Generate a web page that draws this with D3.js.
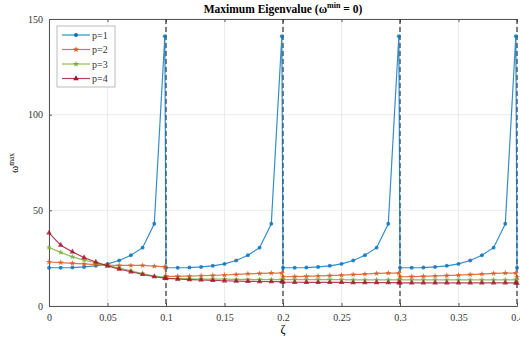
<!DOCTYPE html>
<html lang="en">
<head>
<meta charset="UTF-8">
<title>Maximum Eigenvalue</title>
<script src="https://d3js.org/d3.v7.min.js"></script>
<style>
  body { margin: 0; background: #fff; }
  svg, svg text { font-family: "Liberation Serif", "DejaVu Serif", serif; }
  .tick text { font-size: 10px; fill: #333; font-family: "Liberation Serif", serif; }
</style>
</head>
<body>
<svg width="520" height="340"></svg>
<script>
// zeta values (x)
const zeta = [
  0, 0.01, 0.02, 0.03, 0.04, 0.05, 0.06, 0.07, 0.08, 0.09, 0.099,
  0.1, 0.11, 0.12, 0.13, 0.14, 0.15, 0.16, 0.17, 0.18, 0.19, 0.199,
  0.2, 0.21, 0.22, 0.23, 0.24, 0.25, 0.26, 0.27, 0.28, 0.29, 0.299,
  0.3, 0.31, 0.32, 0.33, 0.34, 0.35, 0.36, 0.37, 0.38, 0.39, 0.399,
  0.4
];
const p1 = [
  20, 20, 20.1, 20.4, 21, 22, 23.8, 26.5, 30.5, 43, 141,
  20, 20, 20.1, 20.4, 21, 22, 23.8, 26.5, 30.5, 43, 141,
  20, 20, 20.1, 20.4, 21, 22, 23.8, 26.5, 30.5, 43, 141,
  20, 20, 20.1, 20.4, 21, 22, 23.8, 26.5, 30.5, 43, 141,
  20
];
const p2 = [
  23, 22.7, 22.3, 22, 21.6, 21.3, 21.2, 21.2, 21.2, 20.8, 20.5,
  15.5, 15.5, 15.6, 15.8, 16, 16.2, 16.5, 16.8, 17, 17.2, 17.2,
  15.3, 15.4, 15.5, 15.7, 15.9, 16.1, 16.4, 16.7, 17, 17.2, 17.2,
  15.3, 15.4, 15.5, 15.7, 15.9, 16.1, 16.4, 16.7, 17, 17.2, 17.2,
  15
];
const p3 = [
  30.6, 28, 25.7, 24, 22.6, 21, 20, 18.4, 17, 15.6, 15,
  14.5, 14.3, 14.2, 14.1, 14, 14, 13.9, 13.9, 13.8, 13.8, 13.8,
  13.8, 13.8, 13.8, 13.8, 13.8, 13.8, 13.7, 13.7, 13.7, 13.7, 13.7,
  13.7, 13.7, 13.7, 13.7, 13.7, 13.7, 13.7, 13.7, 13.7, 13.7, 13.7,
  13.7
];
const p4 = [
  38.2, 31.8, 28.3, 25.3, 23, 21, 19.3, 17.9, 16.5, 15.3, 14.6,
  14.4, 14.1, 13.8, 13.6, 13.4, 13.2, 13, 12.9, 12.8, 12.7, 12.7,
  12.5, 12.4, 12.4, 12.3, 12.3, 12.3, 12.2, 12.2, 12.2, 12.2, 12.2,
  12.1, 12.1, 12.1, 12.1, 12.1, 12.1, 12.1, 12.1, 12.1, 12.1, 12.1,
  12
];
const seriesNames = ['p=1', 'p=2', 'p=3', 'p=4'];
const seriesColors = ['#0072BD', '#D95319', '#77AC30', '#A2142F'];
const xTicks = [0, 0.05, 0.1, 0.15, 0.2, 0.25, 0.3, 0.35, 0.4];
const yTicks = [0, 50, 100, 150];
const dashedAt = [0.1, 0.2, 0.3, 0.4];

const svg = d3.select('svg');
const L = 49, R = 517, T = 19, B = 306;

const x = d3.scaleLinear().domain([0, 0.4]).range([L, R]);
const y = d3.scaleLinear().domain([0, 150]).range([B, T]);

// grid
svg.append('g').selectAll('line.gx').data(xTicks).enter().append('line')
  .attr('x1', d => x(d)).attr('x2', d => x(d)).attr('y1', T).attr('y2', B)
  .style('stroke', '#e6e6e6').style('stroke-width', 0.8);
svg.append('g').selectAll('line.gy').data(yTicks).enter().append('line')
  .attr('x1', L).attr('x2', R).attr('y1', d => y(d)).attr('y2', d => y(d))
  .style('stroke', '#e6e6e6').style('stroke-width', 0.8);

// axes
svg.append('g')
  .attr('transform', `translate(0, ${B})`)
  .call(d3.axisBottom(x).tickValues(xTicks).tickSize(-3).tickPadding(8)
    .tickFormat(d => d3.format('~g')(d)));
svg.append('g')
  .attr('transform', `translate(${L}, 0)`)
  .call(d3.axisLeft(y).tickValues(yTicks).tickSize(-3).tickPadding(6));
svg.append('g')
  .attr('transform', `translate(0, ${T})`)
  .call(d3.axisTop(x).tickValues(xTicks).tickSize(-3).tickFormat(''));
svg.selectAll('.domain').style('stroke', '#555');
svg.selectAll('.tick line').style('stroke', '#555');

// dashed verticals
svg.append('g').selectAll('line').data(dashedAt).enter().append('line')
  .attr('x1', d => x(d)).attr('x2', d => x(d)).attr('y1', T).attr('y2', B)
  .style('stroke', '#333').style('stroke-width', 1.2)
  .style('stroke-dasharray', '5,3');

// series
const allSeries = [p1, p2, p3, p4];
const symbols = [d3.symbolCircle, d3.symbolStar, d3.symbolStar, d3.symbolTriangle];
const symSizes = [12, 12, 12, 14];
const line = d3.line().x(d => x(d[0])).y(d => y(d[1]));

allSeries.forEach((vals, i) => {
  const pts = zeta.map((z, j) => [z, vals[j]]);
  svg.append('path')
    .datum(pts)
    .attr('d', line)
    .style('fill', 'none')
    .style('stroke', seriesColors[i])
    .style('stroke-width', 1.2)
    .style('opacity', 0.8);
  svg.append('g').selectAll('path').data(pts).enter().append('path')
    .attr('transform', d => `translate(${x(d[0])}, ${y(d[1])})`)
    .attr('d', d3.symbol().type(symbols[i]).size(symSizes[i]))
    .style('fill', seriesColors[i])
    .style('opacity', 0.8);
});

// title
const title = svg.append('text')
  .attr('x', 283).attr('y', 13)
  .attr('text-anchor', 'middle')
  .style('font-size', '11.5px').style('font-weight', 'bold');
title.append('tspan').text('Maximum Eigenvalue (ω');
title.append('tspan').attr('dy', -5).style('font-size', '8px').text('min');
title.append('tspan').attr('dy', 5).text(' = 0)');

// axis labels
svg.append('text')
  .attr('x', 283).attr('y', 333)
  .attr('text-anchor', 'middle')
  .style('font-size', '12px')
  .text('ζ');
const ylab = svg.append('text')
  .attr('transform', 'translate(18, 163) rotate(-90)')
  .attr('text-anchor', 'middle')
  .style('font-size', '11px');
ylab.append('tspan').text('ω');
ylab.append('tspan').attr('dy', -4).style('font-size', '7.5px').text('max');

// legend
const legend = svg.append('g').attr('transform', 'translate(57, 26)');
legend.append('rect')
  .attr('width', 58).attr('height', 61)
  .style('fill', '#fff').style('stroke', '#aaa').style('stroke-width', 0.8);
seriesNames.forEach((name, i) => {
  const ly = 9 + i * 14.5;
  legend.append('line')
    .attr('x1', 5).attr('x2', 33).attr('y1', ly).attr('y2', ly)
    .style('stroke', seriesColors[i]).style('stroke-width', 1.2)
    .style('opacity', 0.8);
  legend.append('path')
    .attr('transform', `translate(19, ${ly})`)
    .attr('d', d3.symbol().type(symbols[i]).size(symSizes[i]))
    .style('fill', seriesColors[i]);
  legend.append('text')
    .attr('x', 35).attr('y', ly + 3.5)
    .style('font-size', '10px').style('fill', '#333')
    .text(name);
});
</script>
</body>
</html>
